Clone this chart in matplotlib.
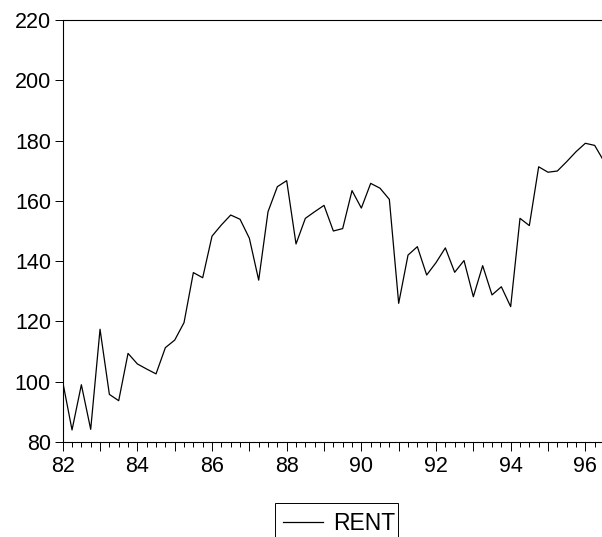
import matplotlib
matplotlib.use("Agg")
import matplotlib.pyplot as plt
from matplotlib.ticker import MultipleLocator, FuncFormatter
from matplotlib.patches import Rectangle
import numpy as np

plt.rcParams['font.family'] = ['Liberation Sans', 'DejaVu Sans']

# Quarterly observations, 1982Q1 .. 1996Q3
start_year = 82
rent = [
    100.0, 84.0, 99.0, 84.2,      # 82
    117.4, 95.8, 93.7, 109.4,     # 83
    105.9, 104.2, 102.6, 111.3,   # 84
    113.8, 119.6, 136.2, 134.5,   # 85
    148.3, 152.0, 155.3, 153.9,   # 86
    147.6, 133.7, 156.4, 164.7,   # 87
    166.7, 145.7, 154.2, 156.4,   # 88
    158.5, 150.0, 150.8, 163.4,   # 89
    157.6, 165.8, 164.2, 160.5,   # 90
    126.0, 142.0, 144.8, 135.4,   # 91
    139.5, 144.4, 136.3, 140.2,   # 92
    128.2, 138.5, 128.8, 131.5,   # 93
    124.9, 154.2, 151.8, 171.3,   # 94
    169.5, 169.9, 173.0, 176.3,   # 95
    179.1, 178.4, 173.1,          # 96
]
series_name = "RENT"
y_ticks = [80, 100, 120, 140, 160, 180, 200, 220]
x_label_years = [82, 84, 86, 88, 90, 92, 94, 96]

t = start_year + np.arange(len(rent)) / 4.0

W, H = 602, 537
fig = plt.figure(figsize=(W / 100, H / 100), dpi=100)
ax_left, ax_right = 62.7, 604.0
ax_top, ax_bottom = 20.0, 442.0
ax = fig.add_axes([ax_left / W, 1 - ax_bottom / H,
                   (ax_right - ax_left) / W, (ax_bottom - ax_top) / H])

ax.plot(t, rent, color='black', linewidth=0.9, label=series_name)

ax.set_xlim(82, 96.5)
ax.set_ylim(80, 220)

ax.spines['right'].set_visible(False)
for s in ['left', 'top', 'bottom']:
    ax.spines[s].set_linewidth(0.8)
    ax.spines[s].set_color('black')

ax.set_yticks(y_ticks)
ax.tick_params(axis='y', direction='out', length=5.5, width=0.7, pad=3,
               labelsize=15.5, colors='black')

ax.xaxis.set_major_locator(MultipleLocator(1))
ax.xaxis.set_minor_locator(MultipleLocator(0.25))
ax.xaxis.set_major_formatter(FuncFormatter(
    lambda v, p: f"{int(round(v))}" if int(round(v)) in x_label_years else ""))
ax.tick_params(axis='x', which='major', direction='out', length=6.5, width=0.7,
               pad=3.5, labelsize=15.5, colors='black')
ax.tick_params(axis='x', which='minor', direction='out', length=3.6, width=0.7)

# legend (frame drawn separately; bottom of box runs off the canvas as in the reference)
leg = fig.legend(loc='upper left', bbox_to_anchor=(273.5 / W, 1 - 503 / H),
                 borderaxespad=0, frameon=False, fontsize=16.5,
                 handlelength=1.75, handletextpad=0.45, borderpad=0.4)
box_l, box_r, box_t = 275, 398, 503
fig.patches.append(Rectangle((box_l / W, -0.05), (box_r - box_l) / W,
                             (1 - box_t / H) + 0.05, transform=fig.transFigure,
                             fill=False, edgecolor='black', linewidth=0.7))

fig.savefig("out.png", dpi=100)
